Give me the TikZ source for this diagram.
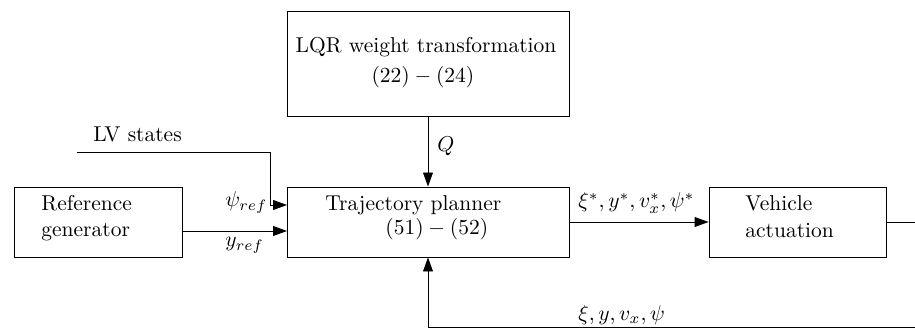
\documentclass[tikz,border=0pt]{standalone}
\usetikzlibrary{arrows.meta}
\begin{document}
\begin{tikzpicture}[x=0.465pt,y=-0.465pt,
  blk/.style={draw,rectangle,inner sep=0pt},
  arr/.style={-{Triangle[length=6.5pt,width=4.6pt]}},
  lbl/.style={inner sep=0pt,anchor=base west}]
\clip (0,0) rectangle (915,329);
% blocks
\node[blk,minimum width=131.1pt,minimum height=48.8pt,align=center] (lqr) at (428,63.5) {};
\node[blk,minimum width=131.1pt,minimum height=32.6pt] (traj) at (428,222) {};
\node[blk,minimum width=78.1pt,minimum height=32.6pt] (refgen) at (98,222) {};
\node[blk,minimum width=82.3pt,minimum height=32.6pt] (veh) at (797.5,222) {};
% block texts
\node[inner sep=0pt,anchor=base] (lqrt1) at (426,53) {LQR weight transformation};
\node[inner sep=0pt,anchor=base] (lqrt2) at (423,83) {$(22)-(24)$};
\node[lbl] (trajt1) at (325,211) {Trajectory planner};
\node[lbl] (trajt2) at (385,235) {$(51)-(52)$};
\node[lbl] (reft1) at (41,211) {Reference};
\node[lbl] (reft2) at (41,236) {generator};
\node[lbl] (veht1) at (745,211) {Vehicle};
\node[lbl] (veht2) at (745,237) {actuation};
% coordinates
\coordinate (lvs) at (77,152);
\coordinate (lvc) at (270,152);
\coordinate (lvd) at (270,205);
\coordinate (ti1) at (287,205);
\coordinate (ro) at (182,231);
\coordinate (ti2) at (287,231);
\coordinate (fr) at (930,222);
\coordinate (fb) at (930,327);
% connectors
\draw[arr] (lqr.south) -- (traj.north);
\draw[arr] (lvs) -- (lvc) -- (lvd) -- (ti1);
\draw[arr] (ro) -- (ti2);
\draw[arr] (traj.east) -- (veh.west);
\draw[arr] (veh.east) -- (fr) -- (fb) -| (traj.south);
% labels
\node[lbl] (lvl) at (93,142) {LV states};
\node[lbl] (ql) at (437,152) {$Q$};
\node[lbl] (psil) at (225,207) {$\psi_{ref}$};
\node[lbl] (yl) at (225,247) {$y_{ref}$};
\node[lbl] (outl) at (578,208) {$\xi^*, y^*, v_x^*, \psi^*$};
\node[lbl] (fbl) at (578,320) {$\xi, y, v_x, \psi$};
\end{tikzpicture}
\end{document}
